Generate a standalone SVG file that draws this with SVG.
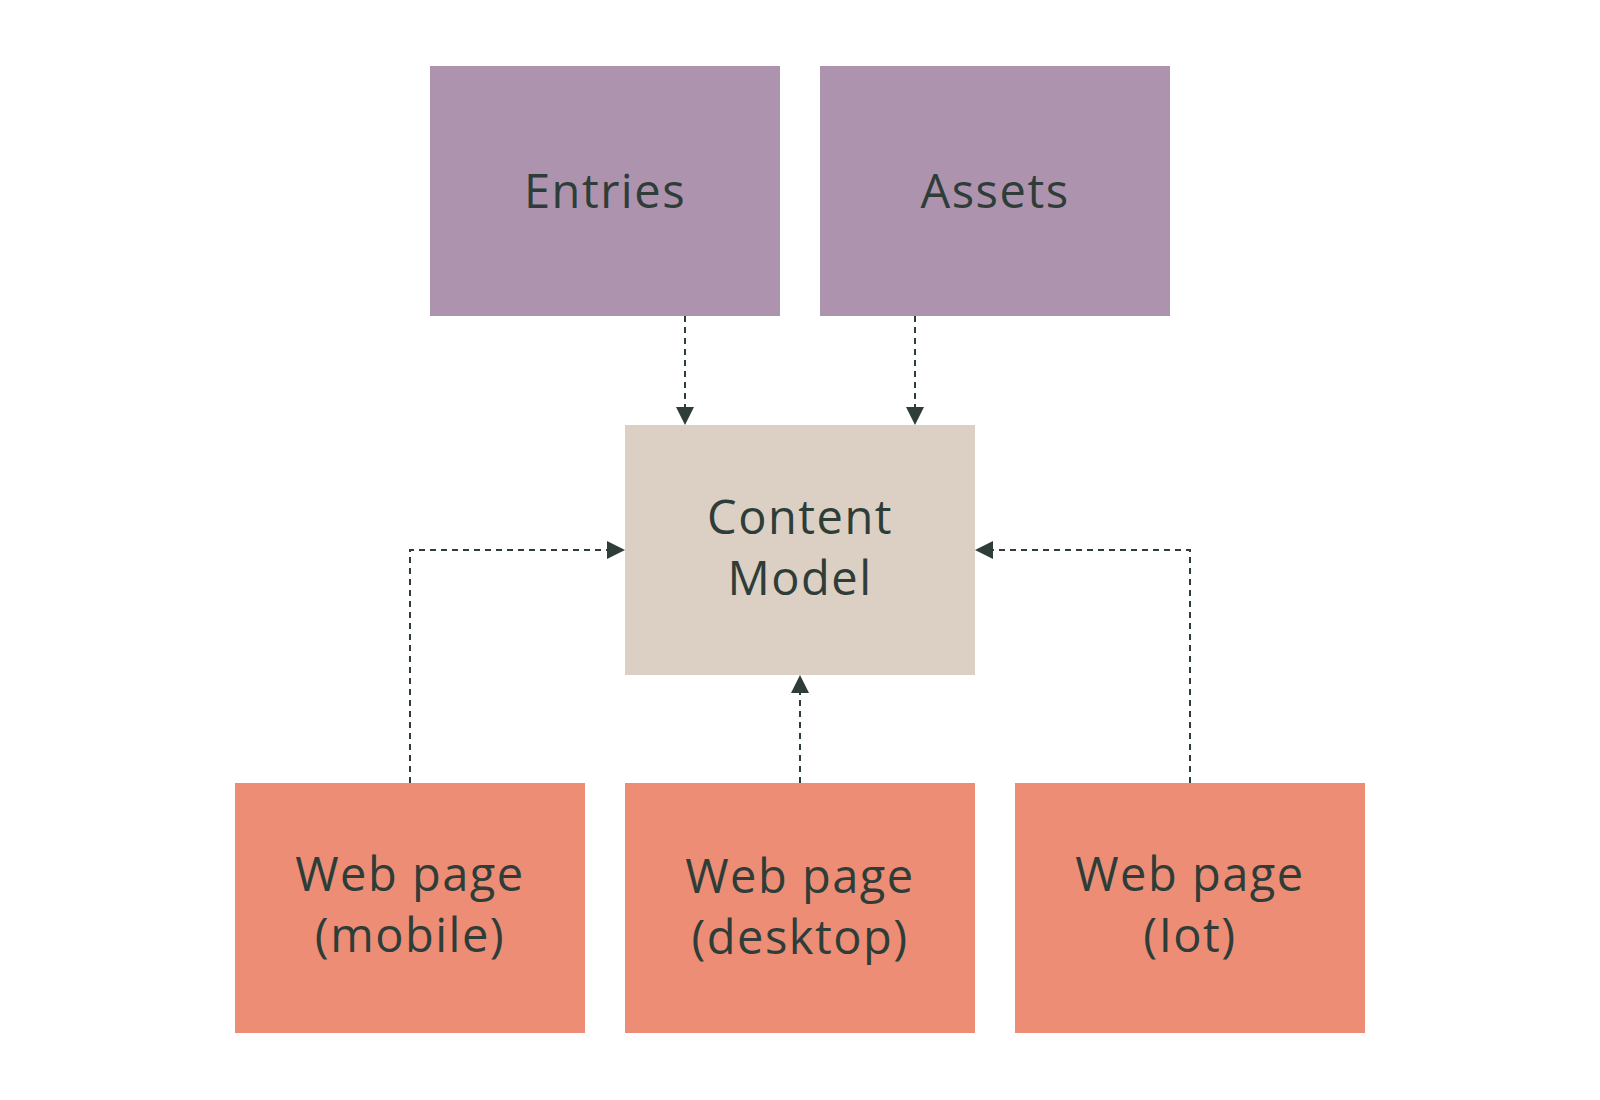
<svg xmlns="http://www.w3.org/2000/svg" width="1600" height="1100" viewBox="0 0 1600 1100">
<style>
.lbl{font-family:"Open Sans","Liberation Sans",sans-serif;font-size:47px;fill:#2E3D38;text-anchor:middle;letter-spacing:1.5px}
.src{fill:#AE93AE}
.mid{fill:#DCD0C4}
.pg{fill:#ED8D76}
.con{fill:none;stroke:#2E3D38;stroke-width:2;stroke-dasharray:6 5}
</style>
<defs>
<marker id="ah" viewBox="0 0 10 10" refX="10" refY="5" markerWidth="9.5" markerHeight="9.5" orient="auto" markerUnits="userSpaceOnUse">
<path d="M0,0 L10,5 L0,10 Z" fill="#2E3D38"/>
</marker>
</defs>
<rect width="1600" height="1100" fill="#FFFFFF"/>
<g id="connectors">
<path class="con" d="M685,316 V407"/>
<path class="con" d="M915,316 V407"/>
<path class="con" d="M410,783 V550 H607"/>
<path class="con" d="M1190,783 V550 H993"/>
<path class="con" d="M800,783 V693"/>
<path d="M676,407 L694,407 L685,425 Z" fill="#2E3D38"/>
<path d="M906,407 L924,407 L915,425 Z" fill="#2E3D38"/>
<path d="M607,541 L607,559 L625,550 Z" fill="#2E3D38"/>
<path d="M993,541 L993,559 L975,550 Z" fill="#2E3D38"/>
<path d="M791,693 L809,693 L800,675 Z" fill="#2E3D38"/>
</g>
<g id="entries">
<rect class="src" x="430" y="66" width="350" height="250"/>
<text class="lbl" x="605" y="208">Entries</text>
</g>
<g id="assets">
<rect class="src" x="820" y="66" width="350" height="250"/>
<text class="lbl" x="995" y="208">Assets</text>
</g>
<g id="content-model">
<rect class="mid" x="625" y="425" width="350" height="250"/>
<text class="lbl" x="800" y="534">Content</text>
<text class="lbl" x="800" y="595">Model</text>
</g>
<g id="web-mobile">
<rect class="pg" x="235" y="783" width="350" height="250"/>
<text class="lbl" x="410" y="891">Web page</text>
<text class="lbl" x="410" y="952">(mobile)</text>
</g>
<g id="web-desktop">
<rect class="pg" x="625" y="783" width="350" height="250"/>
<text class="lbl" x="800" y="893">Web page</text>
<text class="lbl" x="800" y="954">(desktop)</text>
</g>
<g id="web-iot">
<rect class="pg" x="1015" y="783" width="350" height="250"/>
<text class="lbl" x="1190" y="891">Web page</text>
<text class="lbl" x="1190" y="952">(Iot)</text>
</g>
</svg>
